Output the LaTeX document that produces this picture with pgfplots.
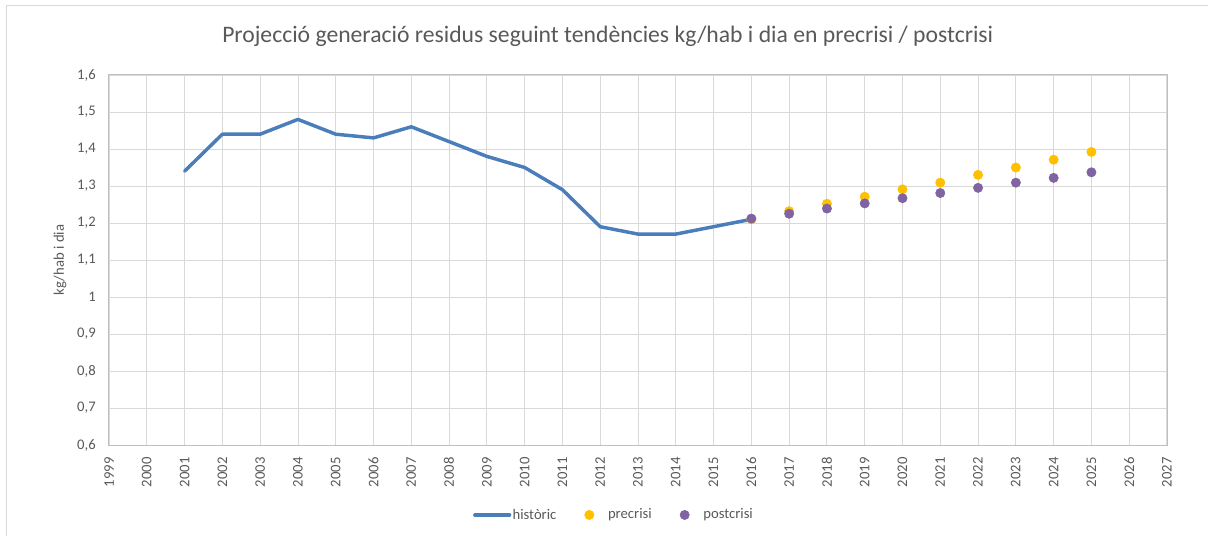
\documentclass[border=0pt]{standalone}
\usepackage{pgfplots}
\pgfplotsset{compat=1.18}
\usepackage{fontspec}
\setmainfont{Carlito}
\definecolor{histc}{RGB}{74,126,187}
\definecolor{prec}{RGB}{255,192,0}
\definecolor{postc}{RGB}{128,100,162}
\definecolor{gridc}{RGB}{217,217,217}
\definecolor{axc}{RGB}{191,191,191}
\definecolor{txtc}{RGB}{89,89,89}
\begin{document}
\begin{tikzpicture}[x=1pt,y=1pt]
\path[use as bounding box] (0,0) rectangle (906,402);
\draw[gridc, line width=0.75pt] (4.5,0) -- (4.5,397.5) -- (906,397.5);
\node[text=txtc, font=\fontsize{17.75}{21}\selectfont] at (455.8,375) {Projecció generació residus seguint tendències kg/hab i dia en precrisi / postcrisi};
\begin{axis}[
  at={(81.75pt,68.25pt)}, anchor=south west,
  scale only axis, width=793.5pt, height=277.5pt,
  xmin=1999, xmax=2027, ymin=0.6, ymax=1.6,
  xtick={1999,...,2027},
  ytick={0.6,0.7,0.8,0.9,1,1.1,1.2,1.3,1.4,1.5,1.6},
  grid=major,
  major grid style={gridc, line width=0.6pt},
  axis line style={axc, line width=0.75pt},
  major tick length=0pt,
  tick style={draw=none},
  font=\fontsize{11}{13}\selectfont,
  ticklabel style={text=txtc, font=\fontsize{11}{13}\selectfont},
  /pgf/number format/assume math mode=true,
  xticklabel style={rotate=90, anchor=east, inner sep=0pt, /pgf/number format/1000 sep={}},
  xticklabel shift=9pt,
  yticklabel style={anchor=east, inner sep=0pt, /pgf/number format/.cd, fixed, precision=1, use comma},
  yticklabel shift=9.75pt,
  ylabel={kg/hab i dia},
  ylabel style={at={(axis description cs:-0.0463,0.5)}, anchor=center, text=txtc, font=\fontsize{11}{13}\selectfont},
  legend columns=3,
  legend style={at={(0.477,-0.189)}, anchor=center, draw=none, fill=none,
    font=\fontsize{11}{13}\selectfont, text=txtc,
    nodes={inner xsep=1pt},
    /tikz/every even column/.append style={column sep=20pt}},
]
\addplot[histc, line width=2.6pt, line join=round, line cap=round,
  legend image code/.code={\draw[histc, line width=2.6pt] (0pt,0pt) -- (26pt,0pt);}]
  coordinates {
  (2001,1.34) (2002,1.44) (2003,1.44) (2004,1.48) (2005,1.44) (2006,1.43)
  (2007,1.46) (2008,1.42) (2009,1.38) (2010,1.35) (2011,1.29) (2012,1.19)
  (2013,1.17) (2014,1.17) (2015,1.19) (2016,1.21)};
\addlegendentry{històric}
\addplot[only marks, mark=*, mark size=3.5pt, color=prec, mark options={draw=prec, fill=prec},
  legend image code/.code={\fill[prec] (0pt,0pt) circle (3.5pt); \path[draw=none, fill=none] (-3.5pt,-1pt) rectangle (13pt,1pt);}]
  coordinates {
  (2016,1.21) (2017,1.232) (2018,1.252) (2019,1.271) (2020,1.291)
  (2021,1.309) (2022,1.330) (2023,1.350) (2024,1.371) (2025,1.392)};
\addlegendentry{precrisi}
\addplot[only marks, mark=*, mark size=3.5pt, color=postc, mark options={draw=postc, fill=postc},
  legend image code/.code={\fill[postc] (0pt,0pt) circle (3.5pt); \path[draw=none, fill=none] (-3.5pt,-1pt) rectangle (13pt,1pt);}]
  coordinates {
  (2016,1.212) (2017,1.225) (2018,1.239) (2019,1.253) (2020,1.267)
  (2021,1.281) (2022,1.295) (2023,1.309) (2024,1.322) (2025,1.337)};
\addlegendentry{postcrisi}
\end{axis}
\end{tikzpicture}
\end{document}
